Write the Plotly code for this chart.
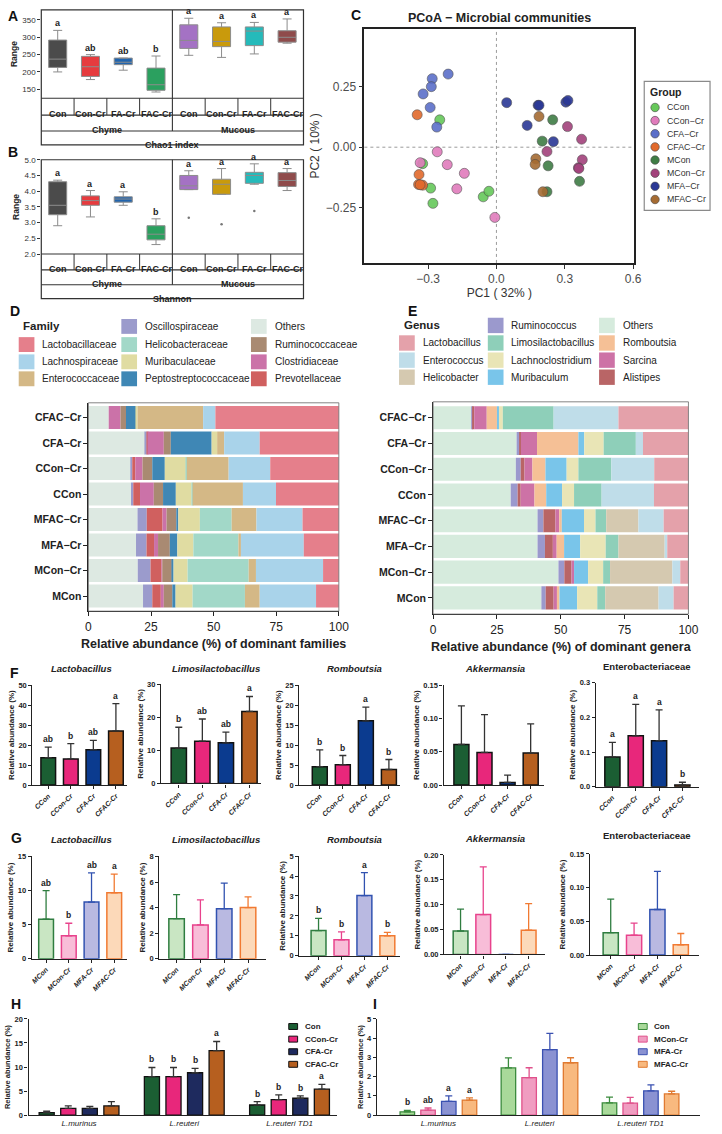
import plotly.graph_objects as go

W, H = 722, 1134
FONT = "Liberation Sans, Arial, Helvetica, sans-serif"

# ======================= DATA =======================
# ---- A / B : alpha diversity (box statistics) ----
alpha_labels = ["Con", "Con-Cr", "FA-Cr", "FAC-Cr", "Con", "Con-Cr", "FA-Cr", "FAC-Cr"]
alpha_sites = ["Chyme", "Mucous"]
alpha_colors = ["#4b4b4b", "#e63b3e", "#2064ae", "#2ba05f", "#a472c4", "#c99a0c", "#25baba", "#8f4b4b"]
chao1_lower = [200, 178, 205, 142, 248, 242, 252, 283]
chao1_q1 = [213, 187, 221, 147, 268, 273, 276, 286]
chao1_median = [237, 215, 228, 163, 291, 288, 318, 300]
chao1_q3 = [292, 245, 240, 211, 336, 330, 330, 319]
chao1_upper = [320, 250, 240, 246, 355, 342, 343, 353]
chao1_letters = ["a", "ab", "ab", "b", "a", "a", "a", "a"]
shannon_lower = [2.90, 3.18, 3.55, 2.30, 4.05, 3.90, 4.22, 4.02]
shannon_q1 = [3.25, 3.55, 3.65, 2.45, 4.05, 3.90, 4.25, 4.15]
shannon_median = [3.55, 3.70, 3.75, 2.63, 4.17, 4.22, 4.50, 4.34]
shannon_q3 = [4.30, 3.85, 3.82, 2.90, 4.50, 4.38, 4.60, 4.59]
shannon_upper = [4.35, 4.02, 3.98, 3.12, 4.65, 4.72, 4.87, 4.72]
shannon_letters = ["a", "a", "a", "b", "a", "a", "a", "a"]
shannon_outlier_pos = [4, 5, 6]
shannon_outlier_val = [3.15, 2.95, 3.37]

# ---- C : PCoA ----
pcoa_groups = ["CCon", "CCon\u2212Cr", "CFA\u2212Cr", "CFAC\u2212Cr", "MCon", "MCon\u2212Cr", "MFA\u2212Cr", "MFAC\u2212Cr"]
pcoa_colors = ["#66c85a", "#e07cbc", "#5b6fc9", "#e26a2c", "#3f7d45", "#a3427c", "#2b3896", "#a56b32"]
pc1_CCon = [-0.249, -0.324, -0.289, -0.279, -0.058, -0.033]
pc2_CCon = [0.113, -0.068, -0.169, -0.232, -0.205, -0.182]
pc1_CConCr = [-0.260, -0.335, -0.216, -0.141, -0.174, -0.007]
pc2_CConCr = [-0.019, -0.064, -0.072, -0.108, -0.172, -0.290]
pc1_CFACr = [-0.212, -0.282, -0.286, -0.322, -0.291, -0.262]
pc2_CFACr = [0.302, 0.283, 0.250, 0.220, 0.164, 0.083]
pc1_CFACCr = [-0.348, -0.340, -0.342, -0.324, -0.335]
pc2_CFACCr = [0.134, -0.113, -0.154, -0.157, -0.155]
pc1_MCon = [0.247, 0.201, 0.227, 0.365, 0.222]
pc2_MCon = [0.113, 0.025, -0.077, -0.141, -0.184]
pc1_MConCr = [0.312, 0.374, 0.222, 0.377, 0.360, 0.362]
pc2_MConCr = [0.085, 0.033, -0.018, -0.052, -0.085, -0.088]
pc1_MFACr = [0.045, 0.183, 0.187, 0.305, 0.314, 0.135, 0.250]
pc2_MFACr = [0.184, 0.173, 0.173, 0.186, 0.193, 0.090, 0.023]
pc1_MFACCr = [0.187, 0.173, 0.170, 0.204]
pc2_MFACCr = [0.127, -0.048, -0.071, -0.184]

# ---- D / E : composition (top to bottom) ----
comp_groups = ["CFAC\u2212Cr", "CFA\u2212Cr", "CCon\u2212Cr", "CCon", "MFAC\u2212Cr", "MFA\u2212Cr", "MCon\u2212Cr", "MCon"]
fam_Others = [8.1, 22.6, 16.7, 17.0, 19.6, 19.0, 19.7, 21.8]
fam_Oscillospiraceae = [0.0, 0.7, 0.8, 0.9, 3.7, 4.2, 5.1, 3.7]
fam_Prevotellaceae = [0.0, 0.3, 1.2, 2.7, 6.3, 3.0, 4.4, 3.4]
fam_Clostridiaceae = [4.7, 6.5, 2.9, 5.5, 1.6, 1.6, 0.3, 1.2]
fam_Ruminococcaceae = [2.2, 2.8, 3.9, 3.7, 3.9, 4.7, 3.8, 3.4]
fam_Peptostreptococcaceae = [4.0, 16.3, 5.0, 5.1, 0.8, 3.0, 0.7, 1.3]
fam_Muribaculaceae = [0.6, 2.2, 8.4, 6.3, 8.6, 6.4, 5.6, 6.8]
fam_Helicobacteraceae = [0.0, 0.0, 0.4, 0.4, 12.7, 18.0, 24.4, 20.9]
fam_Enterococcaceae = [26.2, 2.8, 16.7, 20.1, 9.9, 1.0, 2.9, 5.9]
fam_Lachnospiraceae = [4.9, 14.2, 16.6, 13.2, 18.4, 25.1, 26.8, 22.5]
fam_Lactobacillaceae = [49.3, 31.6, 27.4, 25.1, 14.5, 14.0, 6.3, 9.1]

gen_Others = [14.9, 32.7, 32.4, 30.4, 40.9, 40.9, 49.1, 42.4]
gen_Ruminococcus = [0.6, 1.3, 1.9, 2.7, 2.3, 2.9, 2.3, 1.7]
gen_Alistipes = [0.6, 0.4, 1.5, 1.2, 4.7, 3.1, 2.8, 3.1]
gen_Sarcina = [4.9, 6.3, 3.1, 5.4, 1.5, 1.5, 1.0, 1.3]
gen_Romboutsia = [4.0, 16.2, 5.1, 4.6, 1.0, 2.9, 0.0, 1.0]
gen_Muribaculum = [0.8, 2.3, 8.3, 6.2, 8.7, 6.3, 5.5, 6.9]
gen_Lachnoclostridium = [1.5, 7.6, 4.6, 4.7, 4.5, 10.0, 5.9, 7.9]
gen_Limosilactobacillus = [19.9, 12.6, 12.9, 10.8, 4.2, 5.0, 2.7, 3.1]
gen_Helicobacter = [0.0, 0.0, 0.0, 0.0, 12.6, 18.1, 24.4, 20.9]
gen_Enterococcus = [25.4, 2.8, 16.8, 20.5, 9.9, 1.0, 3.1, 5.9]
gen_Lactobacillus = [27.4, 17.8, 13.4, 13.5, 9.7, 8.3, 3.2, 5.8]

# ---- F : chyme groups ----
F_groups = ["CCon", "CCon-Cr", "CFA-Cr", "CFAC-Cr"]
F_colors = ["#1b5e33", "#e8277b", "#0b3b8f", "#b65f1f"]
taxa_titles = ["Lactobacillus", "Limosilactobacillus", "Romboutsia", "Akkermansia", "Enterobacteriaceae"]
taxa_italic = [True, True, True, True, False]
F_lacto_mean = [13.7, 13.1, 17.7, 27.1]
F_lacto_sd = [5.3, 7.7, 4.7, 13.7]
F_lacto_sig = ["ab", "b", "ab", "a"]
F_limosi_mean = [10.7, 12.8, 12.3, 21.8]
F_limosi_sd = [6.3, 6.7, 3.2, 4.5]
F_limosi_sig = ["b", "ab", "ab", "a"]
F_romb_mean = [4.6, 5.1, 16.1, 3.9]
F_romb_sd = [4.2, 2.3, 3.4, 2.5]
F_romb_sig = ["b", "b", "a", "b"]
F_akk_mean = [0.061, 0.049, 0.004, 0.048]
F_akk_sd = [0.058, 0.057, 0.011, 0.044]
F_akk_sig = ["", "", "", ""]
F_entero_mean = [0.086, 0.147, 0.133, 0.005]
F_entero_sd = [0.042, 0.091, 0.089, 0.008]
F_entero_sig = ["a", "a", "a", "b"]

# ---- G : mucous groups ----
G_groups = ["MCon", "MCon-Cr", "MFA-Cr", "MFAC-Cr"]
G_fill = ["#c9e6c3", "#f8bdd8", "#b9b9e1", "#fcd9b9"]
G_line = ["#2f7d40", "#e8428c", "#3152b0", "#f17a32"]
G_lacto_mean = [5.8, 3.35, 8.3, 9.66]
G_lacto_sd = [4.2, 1.85, 4.3, 2.74]
G_lacto_sig = ["ab", "b", "ab", "a"]
G_limosi_mean = [3.13, 2.64, 3.91, 4.0]
G_limosi_sd = [1.89, 1.96, 2.01, 0.83]
G_limosi_sig = ["", "", "", ""]
G_romb_mean = [1.26, 0.8, 3.02, 1.0]
G_romb_sd = [0.61, 0.4, 1.15, 0.17]
G_romb_sig = ["b", "b", "a", "b"]
G_akk_mean = [0.047, 0.08, 0.0, 0.0485]
G_akk_sd = [0.044, 0.096, 0.0, 0.0535]
G_akk_sig = ["", "", "", ""]
G_entero_mean = [0.0333, 0.0294, 0.0676, 0.0152]
G_entero_sd = [0.0497, 0.0181, 0.0564, 0.0168]
G_entero_sig = ["", "", "", ""]

# ---- H / I : Lactobacillus species ----
species = ["L.murinus", "L.reuteri", "L.reuteri TD1"]
H_groups = ["Con", "CCon-Cr", "CFA-Cr", "CFAC-Cr"]
H_colors = ["#1b5e33", "#e8277b", "#1e2a5e", "#b65f1f"]
H_mean_Con = [0.5, 8.0, 2.1]
H_sd_Con = [0.3, 1.9, 0.7]
H_mean_CConCr = [1.4, 8.0, 3.2]
H_sd_CConCr = [0.5, 1.9, 1.0]
H_mean_CFACr = [1.4, 8.8, 3.5]
H_sd_CFACr = [0.4, 0.9, 0.5]
H_mean_CFACCr = [1.9, 13.4, 5.4]
H_sd_CFACCr = [0.9, 1.9, 1.0]
H_sig_Con = ["", "b", "b"]
H_sig_CConCr = ["", "b", "b"]
H_sig_CFACr = ["", "b", "b"]
H_sig_CFACCr = ["", "a", "a"]

I_groups = ["Con", "MCon-Cr", "MFA-Cr", "MFAC-Cr"]
I_fill = ["#a9d99a", "#f09dc1", "#8a92d2", "#f8b97f"]
I_line = ["#3b8b3d", "#e0518b", "#3a51b1", "#e07a31"]
I_mean_Con = [0.17, 2.45, 0.64]
I_sd_Con = [0.07, 0.52, 0.29]
I_mean_MConCr = [0.26, 1.95, 0.62]
I_sd_MConCr = [0.11, 0.51, 0.30]
I_mean_MFACr = [0.71, 3.40, 1.26]
I_sd_MFACr = [0.29, 0.85, 0.31]
I_mean_MFACCr = [0.78, 2.72, 1.10]
I_sd_MFACCr = [0.12, 0.26, 0.14]
I_sig_Con = ["b", "", ""]
I_sig_MConCr = ["ab", "", ""]
I_sig_MFACr = ["a", "", ""]
I_sig_MFACCr = ["a", "", ""]

# ======================= HELPERS =======================
fig = go.Figure()
layout = dict(
    width=W, height=H, margin=dict(l=0, r=0, t=0, b=0, pad=0),
    paper_bgcolor="white", plot_bgcolor="rgba(0,0,0,0)",
    font=dict(family=FONT, color="#222"), showlegend=False,
    barmode="group", bargap=0.18, bargroupgap=0.3,
)
shapes = []
annotations = []
_axn = [0]


def new_axes(x0, x1, y0, y1, xkw, ykw):
    _axn[0] += 1
    n = _axn[0]
    s = "" if n == 1 else str(n)
    xd = dict(domain=[x0 / W, x1 / W], anchor="y" + s, showgrid=False, zeroline=False, fixedrange=True)
    yd = dict(domain=[1 - y1 / H, 1 - y0 / H], anchor="x" + s, showgrid=False, zeroline=False, fixedrange=True)
    xd.update(xkw)
    yd.update(ykw)
    layout["xaxis" + s] = xd
    layout["yaxis" + s] = yd
    return "x" + s, "y" + s


def rect_px(x0, y0, x1, y1, fill="rgba(0,0,0,0)", lc="rgba(0,0,0,0)", lw=0, layer="above"):
    shapes.append(dict(type="rect", xref="paper", yref="paper", x0=x0 / W, x1=x1 / W,
                       y0=1 - y1 / H, y1=1 - y0 / H, fillcolor=fill,
                       line=dict(color=lc, width=lw), layer=layer))


def circle_px(cx, cy, r, fill, lc="#444", lw=0.6):
    shapes.append(dict(type="circle", xref="paper", yref="paper", x0=(cx - r) / W, x1=(cx + r) / W,
                       y0=1 - (cy + r) / H, y1=1 - (cy - r) / H, fillcolor=fill,
                       line=dict(color=lc, width=lw), layer="above"))


def line_px(x0, y0, x1, y1, color="#333", width=1.0):
    shapes.append(dict(type="line", xref="paper", yref="paper", x0=x0 / W, x1=x1 / W,
                       y0=1 - y0 / H, y1=1 - y1 / H, line=dict(color=color, width=width), layer="above"))


def text_px(x, y, text, size, xanchor="center", yanchor="middle", color="#222", bold=False, italic=False):
    annotations.append(dict(xref="paper", yref="paper", x=x / W, y=1 - y / H, text=text, showarrow=False,
                            xanchor=xanchor, yanchor=yanchor,
                            font=dict(size=size, color=color, family=FONT,
                                      weight="bold" if bold else "normal",
                                      style="italic" if italic else "normal")))


# ======================= A & B : box plots =======================
def alpha_panel(top, bot, yrange, ykw, lower, q1, med, q3, upper, letters, index_name, rows):
    xa, ya = new_axes(39, 306, top, bot,
                      dict(range=[-0.5, 7.5], showticklabels=False, ticks=""),
                      dict(range=yrange, ticks="outside", ticklen=3, tickcolor="#333",
                           tickfont=dict(size=8, color="#333"),
                           title=dict(text="Range", font=dict(size=8.5, weight="bold"), standoff=3), **ykw))
    for i in range(8):
        fig.add_trace(go.Box(x=[i], q1=[q1[i]], median=[med[i]], q3=[q3[i]],
                             lowerfence=[lower[i]], upperfence=[upper[i]],
                             fillcolor=alpha_colors[i], line=dict(color="#8c8c8c", width=1),
                             width=0.55, whiskerwidth=0.5, boxpoints=False,
                             xaxis=xa, yaxis=ya, hoverinfo="skip"))
        annotations.append(dict(xref=xa, yref=ya, x=i, y=upper[i], text="<b>%s</b>" % letters[i],
                                showarrow=False, yanchor="bottom", yshift=0,
                                font=dict(size=9, color="#222", family=FONT)))
    # table under the plot
    r1, r2, r3 = rows
    rect_px(39, top, 306, r3, lc="#333", lw=1.2)
    for yy in (bot, r1, r2):
        line_px(39, yy, 306, yy, "#333", 1.1)
    cw = (306 - 39) / 8.0
    for k in range(1, 8):
        if k == 4:
            line_px(39 + cw * k, top, 39 + cw * k, r2, "#333", 1.1)
        else:
            line_px(39 + cw * k, bot, 39 + cw * k, r1, "#333", 1.0)
    for i in range(8):
        annotations.append(dict(xref=xa, yref="paper", x=i, y=1 - ((bot + r1) / 2) / H,
                                text="<b>%s</b>" % alpha_labels[i], showarrow=False,
                                font=dict(size=9, color="#222", family=FONT)))
    for j, site in enumerate(alpha_sites):
        annotations.append(dict(xref=xa, yref="paper", x=1.5 + 4 * j, y=1 - ((r1 + r2) / 2) / H,
                                text="<b>%s</b>" % site, showarrow=False,
                                font=dict(size=9, color="#222", family=FONT)))
    annotations.append(dict(xref=xa, yref="paper", x=3.5, y=1 - ((r2 + r3) / 2) / H,
                            text="<b>%s</b>" % index_name, showarrow=False,
                            font=dict(size=9, color="#222", family=FONT)))
    return xa, ya


alpha_panel(6, 95, [124, 379], dict(tickvals=[150, 200, 250, 300, 350]),
            chao1_lower, chao1_q1, chao1_median, chao1_q3, chao1_upper, chao1_letters,
            "Chao1 index", (112, 128, 142))
xb, yb = alpha_panel(157, 252, [2.0, 5.0], dict(dtick=0.5, tickformat=".1f"),
                     shannon_lower, shannon_q1, shannon_median, shannon_q3, shannon_upper, shannon_letters,
                     "Shannon", (268, 283, 297))
fig.add_trace(go.Scatter(x=shannon_outlier_pos, y=shannon_outlier_val, mode="markers",
                         marker=dict(size=2.5, color="#777"), xaxis=xb, yaxis=yb, hoverinfo="skip"))

# ======================= C : PCoA =======================
xc, yc = new_axes(368, 643, 25, 261,
                  dict(range=[-0.58, 0.606], tickvals=[-0.3, 0.0, 0.3, 0.6], tickformat=".1f",
                       ticks="outside", ticklen=4, tickcolor="#333", showline=True, mirror=True,
                       linecolor="#222", linewidth=1.5, tickfont=dict(size=12, color="#4d4d4d"),
                       title=dict(text="PC1 ( 32% )", font=dict(size=12, color="#333"), standoff=4)),
                  dict(range=[-0.478, 0.489], tickvals=[-0.25, 0.0, 0.25], tickformat=".2f",
                       ticks="outside", ticklen=4, tickcolor="#333", showline=True, mirror=True,
                       linecolor="#222", linewidth=1.5, tickfont=dict(size=12, color="#4d4d4d"),
                       title=dict(text="PC2 ( 10% )", font=dict(size=12, color="#333"), standoff=4)))
shapes.append(dict(type="line", xref=xc, yref=yc + " domain", x0=0, x1=0, y0=0, y1=1,
                   line=dict(color="#9a9a9a", width=1, dash="dot"), layer="below"))
shapes.append(dict(type="line", xref=xc + " domain", yref=yc, x0=0, x1=1, y0=0, y1=0,
                   line=dict(color="#9a9a9a", width=1, dash="dot"), layer="below"))
pc1_all = [pc1_CCon, pc1_CConCr, pc1_CFACr, pc1_CFACCr, pc1_MCon, pc1_MConCr, pc1_MFACr, pc1_MFACCr]
pc2_all = [pc2_CCon, pc2_CConCr, pc2_CFACr, pc2_CFACCr, pc2_MCon, pc2_MConCr, pc2_MFACr, pc2_MFACCr]
for g, col, xs, ys in zip(pcoa_groups, pcoa_colors, pc1_all, pc2_all):
    fig.add_trace(go.Scatter(x=xs, y=ys, mode="markers", name=g,
                             marker=dict(size=10, color=col, opacity=0.9, line=dict(color="#444", width=0.6)),
                             xaxis=xc, yaxis=yc))
text_px(506, 14, "PCoA \u2212 Microbial communities", 12.5, bold=True)
rect_px(653, 78, 720, 208, lc="#8a8a8a", lw=1.2)
text_px(657, 89, "Group", 10.5, xanchor="left", bold=True)
for i, (g, col) in enumerate(zip(pcoa_groups, pcoa_colors)):
    cy = 104.3 + 13.25 * i
    circle_px(664, cy, 4.3, col)
    text_px(674, cy, g, 8.8, xanchor="left", color="#333")

# ======================= D & E : composition =======================
fam_names = ["Others", "Oscillospiraceae", "Prevotellaceae", "Clostridiaceae", "Ruminococcaceae",
             "Peptostreptococcaceae", "Muribaculaceae", "Helicobacteraceae", "Enterococcaceae",
             "Lachnospiraceae", "Lactobacillaceae"]
fam_vals = [fam_Others, fam_Oscillospiraceae, fam_Prevotellaceae, fam_Clostridiaceae, fam_Ruminococcaceae,
            fam_Peptostreptococcaceae, fam_Muribaculaceae, fam_Helicobacteraceae, fam_Enterococcaceae,
            fam_Lachnospiraceae, fam_Lactobacillaceae]
fam_colors = ["#dde9e2", "#9b9bcc", "#d0605f", "#cb72a8", "#a98a72", "#3f87b5", "#e0dca2",
              "#a2d8c8", "#d4b886", "#a9d3ea", "#e57f8b"]
gen_names = ["Others", "Ruminococcus", "Alistipes", "Sarcina", "Romboutsia", "Muribaculum",
             "Lachnoclostridium", "Limosilactobacillus", "Helicobacter", "Enterococcus", "Lactobacillus"]
gen_vals = [gen_Others, gen_Ruminococcus, gen_Alistipes, gen_Sarcina, gen_Romboutsia, gen_Muribaculum,
            gen_Lachnoclostridium, gen_Limosilactobacillus, gen_Helicobacter, gen_Enterococcus, gen_Lactobacillus]
gen_colors = ["#d6ebdd", "#9b99cd", "#b96566", "#cd72a6", "#f5c096", "#79c5ea", "#e9e5b6",
              "#8ecfb9", "#d5c9b0", "#bfdde9", "#e4a1aa"]


def comp_panel(x0, x1, y0, y1, yr, names, vals, colors, xtitle, tsize):
    xa, ya = new_axes(x0, x1, y0, y1,
                      dict(range=[0, 100], tickvals=[0, 25, 50, 75, 100], ticks="outside", ticklen=4,
                           tickcolor="#222", showline=True, linecolor="#222", linewidth=1,
                           tickfont=dict(size=12, color="#222"),
                           title=dict(text=xtitle, font=dict(size=tsize, weight="bold"), standoff=6)),
                      dict(type="category", categoryorder="array", categoryarray=comp_groups, range=yr,
                           ticks="outside", ticklen=4, tickcolor="#222", showline=True, linecolor="#222",
                           linewidth=1, tickfont=dict(size=10.5, color="#222", weight="bold")))
    base = [0.0] * len(comp_groups)
    for nm, v, c in zip(names, vals, colors):
        fig.add_trace(go.Bar(y=comp_groups, x=v, base=list(base), orientation="h", name=nm,
                             marker=dict(color=c, line=dict(width=0)), width=0.9, offsetgroup="comp",
                             xaxis=xa, yaxis=ya))
        base = [b + vv for b, vv in zip(base, v)]
    rect_px(x0, y0, x1, y1, lc="#666", lw=0.8)


comp_panel(87, 342, 402, 612, [7.59, -0.58], fam_names, fam_vals, fam_colors,
           "Relative abundance (%) of dominant families", 12.5)
comp_panel(438, 698, 401, 615, [7.63, -0.62], gen_names, gen_vals, gen_colors,
           "Relative abundance (%) of dominant genera", 12.5)

# D / E legends (3 columns, header in first cell)
fam_legend_cols = [["Lactobacillaceae", "Lachnospiraceae", "Enterococcaceae"],
                   ["Oscillospiraceae", "Helicobacteraceae", "Muribaculaceae", "Peptostreptococcaceae"],
                   ["Others", "Ruminococcaceae", "Clostridiaceae", "Prevotellaceae"]]
gen_legend_cols = [["Lactobacillus", "Enterococcus", "Helicobacter"],
                   ["Ruminococcus", "Limosilactobacillus", "Lachnoclostridium", "Muribaculum"],
                   ["Others", "Romboutsia", "Sarcina", "Alistipes"]]


def comp_legend(title, tx, cols, names, colors, swx, rows_y, sw, sh):
    text_px(tx, rows_y[0], title, 11.5, xanchor="left", bold=True)
    for ci, col in enumerate(cols):
        ys = rows_y[1:] if ci == 0 else rows_y
        for r, nm in enumerate(col):
            c = colors[names.index(nm)]
            rect_px(swx[ci], ys[r] - sh / 2, swx[ci] + sw, ys[r] + sh / 2, fill=c)
            text_px(swx[ci] + sw + 6, ys[r], nm, 10, xanchor="left", color="#222")


comp_legend("Family", 18, fam_legend_cols, fam_names, fam_colors, [16, 120.5, 252.5],
            [325, 343.3, 360.7, 377.8], 16, 15)
comp_legend("Genus", 406, gen_legend_cols, gen_names, gen_colors, [403.3, 493.7, 607],
            [324, 341.7, 359, 376.2], 16, 15.5)

# ======================= F & G : bar panels =======================
F_means = [F_lacto_mean, F_limosi_mean, F_romb_mean, F_akk_mean, F_entero_mean]
F_sds = [F_lacto_sd, F_limosi_sd, F_romb_sd, F_akk_sd, F_entero_sd]
F_sigs = [F_lacto_sig, F_limosi_sig, F_romb_sig, F_akk_sig, F_entero_sig]
G_means = [G_lacto_mean, G_limosi_mean, G_romb_mean, G_akk_mean, G_entero_mean]
G_sds = [G_lacto_sd, G_limosi_sd, G_romb_sd, G_akk_sd, G_entero_sd]
G_sigs = [G_lacto_sig, G_limosi_sig, G_romb_sig, G_akk_sig, G_entero_sig]

F_box = [(30, 126, 686.7, 787.3, [-0.70, 3.48]), (161, 263, 685.7, 785.7, [-0.75, 3.50]),
         (301.7, 404, 686.7, 787.3, [-0.89, 3.47]), (448.7, 551, 686.7, 787.3, [-0.77, 3.58]),
         (603.7, 709, 684.3, 789, [-0.71, 3.72])]
F_yaxis = [([0, 50], 10, ""), ([0, 30], 10, ""), ([0, 25], 5, ""), ([0, 0.15], 0.05, ".2f"), ([0, 0.3], 0.1, ".1f")]
F_title_pos = [(80, 670), (217, 670), (358, 670), (501, 670), (656, 668)]
G_box = [(29.3, 126, 859.3, 962.3, [-0.63, 3.55]), (159.3, 268, 859.3, 962.3, [-0.72, 3.76]),
         (301.7, 404, 859, 959.3, [-0.84, 3.54]), (449.3, 551.7, 857.7, 958, [-0.72, 3.71]),
         (597.7, 709, 856.7, 958.7, [-0.89, 3.79])]
G_yaxis = [([0, 15], 5, ""), ([0, 8], 2, ""), ([0, 5], 1, ""), ([0, 0.2], 0.05, ".2f"), ([0, 0.15], 0.05, ".2f")]
G_title_pos = [(80, 842), (217, 842), (358, 842), (501, 841), (656, 838)]


def bar_panel(box, yax, groups, means, sds, sigs, fills, lines, errc):
    x0, x1, y0, y1, xr = box
    yr, dt, fmt = yax
    xa, ya = new_axes(x0, x1, y0, y1,
                      dict(type="category", categoryorder="array", categoryarray=groups, range=xr,
                           ticks="outside", ticklen=3, tickcolor="#222", showline=True, linecolor="#222",
                           linewidth=1.4, tickangle=-45,
                           tickfont=dict(size=7, color="#222", weight="bold", style="italic")),
                      dict(range=yr, dtick=dt, tickformat=fmt, ticks="outside", ticklen=3, tickcolor="#222",
                           showline=True, linecolor="#222", linewidth=1.4,
                           tickfont=dict(size=7.5, color="#222", weight="bold"),
                           title=dict(text="Relative abundance (%)", font=dict(size=8, weight="bold"), standoff=2)))
    for i, g in enumerate(groups):
        ec = errc[i] if isinstance(errc, list) else errc
        fig.add_trace(go.Bar(x=[g], y=[means[i]], width=0.65, offsetgroup="one",
                             marker=dict(color=fills[i], line=dict(color=lines[i], width=1.5)),
                             error_y=dict(type="data", symmetric=False, array=[sds[i]], arrayminus=[0],
                                          color=ec, thickness=1.3, width=3.5),
                             xaxis=xa, yaxis=ya))
        if sigs[i]:
            annotations.append(dict(xref=xa, yref=ya, x=g, y=means[i] + sds[i], text="<b>%s</b>" % sigs[i],
                                    showarrow=False, yanchor="bottom", yshift=1,
                                    font=dict(size=8.5, color="#222", family=FONT)))


for k in range(5):
    bar_panel(F_box[k], F_yaxis[k], F_groups, F_means[k], F_sds[k], F_sigs[k], F_colors,
              ["#111"] * 4, "#333")
    tx, ty = F_title_pos[k]
    text_px(tx, ty, taxa_titles[k], 9.5, bold=True, italic=taxa_italic[k])
    bar_panel(G_box[k], G_yaxis[k], G_groups, G_means[k], G_sds[k], G_sigs[k], G_fill, G_line, G_line)
    tx, ty = G_title_pos[k]
    text_px(tx, ty, taxa_titles[k], 9.5, bold=True, italic=taxa_italic[k])

# ======================= H & I : grouped bars =======================
H_means = [H_mean_Con, H_mean_CConCr, H_mean_CFACr, H_mean_CFACCr]
H_sds = [H_sd_Con, H_sd_CConCr, H_sd_CFACr, H_sd_CFACCr]
H_sigs = [H_sig_Con, H_sig_CConCr, H_sig_CFACr, H_sig_CFACCr]
I_means = [I_mean_Con, I_mean_MConCr, I_mean_MFACr, I_mean_MFACCr]
I_sds = [I_sd_Con, I_sd_MConCr, I_sd_MFACr, I_sd_MFACCr]
I_sigs = [I_sig_Con, I_sig_MConCr, I_sig_MFACr, I_sig_MFACCr]


def group_panel(x0, x1, y0, y1, xr, yr, dt, groups, means, sds, sigs, fills, lines, errc, leg_sw_x, leg_y):
    xa, ya = new_axes(x0, x1, y0, y1,
                      dict(type="category", categoryorder="array", categoryarray=species, range=xr,
                           ticks="", showline=True, linecolor="#222", linewidth=1.4,
                           tickfont=dict(size=8, color="#222", style="italic")),
                      dict(range=yr, dtick=dt, ticks="outside", ticklen=3, tickcolor="#222",
                           showline=True, linecolor="#222", linewidth=1.4,
                           tickfont=dict(size=7.5, color="#222", weight="bold"),
                           title=dict(text="Relative abundance (%)", font=dict(size=7.5, weight="bold"), standoff=2)))
    slot = (1 - layout["bargap"]) / len(groups)
    for i, g in enumerate(groups):
        fig.add_trace(go.Bar(x=species, y=means[i], name=g, offsetgroup=g,
                             marker=dict(color=fills[i], line=dict(color=lines[i], width=1.3)),
                             error_y=dict(type="data", symmetric=False, array=sds[i], arrayminus=[0] * 3,
                                          color=errc[i], thickness=1.3, width=3.5),
                             xaxis=xa, yaxis=ya))
        for j in range(len(species)):
            if sigs[i][j]:
                annotations.append(dict(xref=xa, yref=ya, x=j + (i - 1.5) * slot, y=means[i][j] + sds[i][j],
                                        text="<b>%s</b>" % sigs[i][j], showarrow=False,
                                        yanchor="bottom", yshift=1,
                                        font=dict(size=8.5, color="#222", family=FONT)))
        yy = leg_y + 12.7 * i
        rect_px(leg_sw_x, yy - 3, leg_sw_x + 9, yy + 3, fill=fills[i], lc=lines[i], lw=1)
        text_px(leg_sw_x + 14, yy, g, 8, xanchor="left", bold=True)


group_panel(26, 340, 1023, 1120, [-0.48, 2.45], [0, 20], 5, H_groups, H_means, H_sds, H_sigs,
            H_colors, ["#111"] * 4, ["#333"] * 4, 291, 1030.7)
group_panel(380.6, 710, 1023, 1120, [-0.61, 2.59], [0, 5], 1, I_groups, I_means, I_sds, I_sigs,
            I_fill, I_line, I_line, 647, 1030.7)

# ======================= panel letters =======================
for L, lx, ly in [("A", 3, 2), ("B", 3, 139), ("C", 352, 1), ("D", 5, 299), ("E", 410, 299),
                  ("F", 5, 664), ("G", 6, 831), ("H", 6, 998), ("I", 375, 998)]:
    text_px(lx, ly, L, 14, xanchor="left", yanchor="top", bold=True, color="#111")

layout["shapes"] = shapes
layout["annotations"] = annotations
fig.update_layout(**layout)
fig.write_html("out.html", config={"displayModeBar": False})
